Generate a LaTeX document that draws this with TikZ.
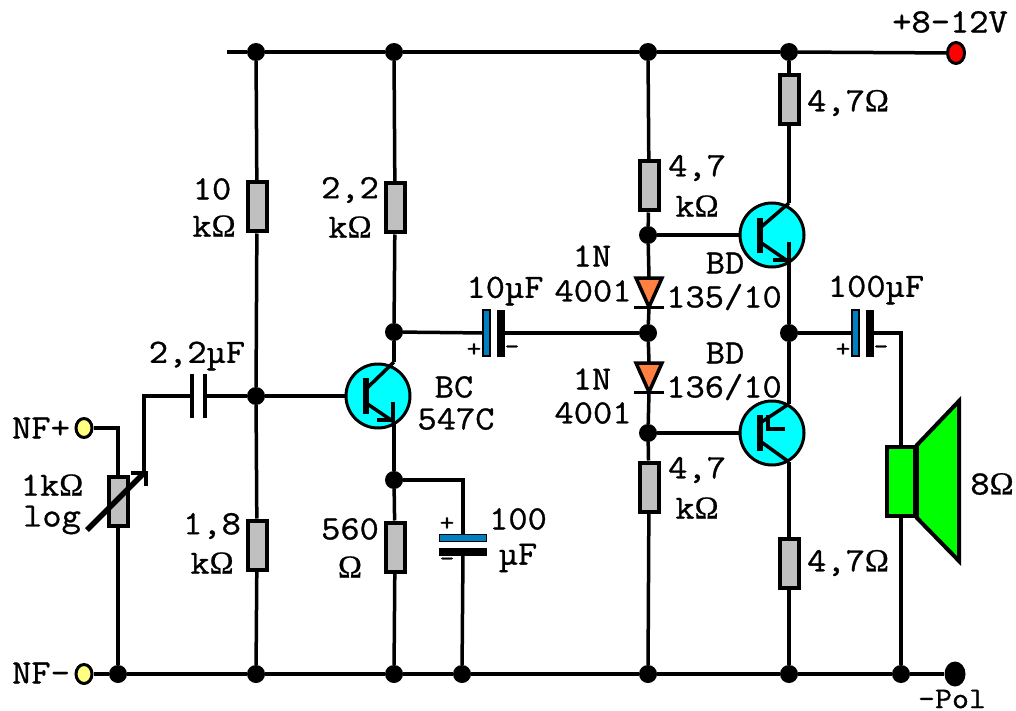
\documentclass[tikz,border=0pt]{standalone}
\usepackage{fontspec}
\setmainfont{Latin Modern Mono}[FakeBold=0.9,FakeStretch=1.1]
\newfontfamily\omegafont{Liberation Serif}[Scale=0.95,FakeBold=0.6]
\newcommand{\Om}{{\omegafont Ω}}
\usetikzlibrary{shapes.geometric}
\definecolor{cyanT}{HTML}{00FFFF}
\definecolor{greyR}{HTML}{C0C0C0}
\definecolor{blueC}{HTML}{0080C0}
\definecolor{orangeD}{HTML}{FF8040}
\definecolor{yellowN}{HTML}{FFFF80}
\definecolor{greenS}{HTML}{00FF00}
\tikzset{
 wire/.style={line width=3.5pt},
 junc/.style={circle,fill=black,draw=none,minimum size=18pt,inner sep=0pt},
 res/.style={rectangle,draw=black,line width=4pt,fill=greyR,minimum width=19pt,minimum height=49pt,inner sep=0pt},
 trans/.style={circle,draw=black,line width=3pt,fill=cyanT,minimum size=64pt,inner sep=0pt},
 term/.style={ellipse,draw=black,line width=3pt,fill=yellowN,minimum width=16pt,minimum height=19pt,inner sep=0pt},
 lab/.style={inner sep=0pt,font=\fontsize{34}{36}\selectfont},
 plateB/.style={rectangle,draw=black,line width=1.5pt,fill=blueC,minimum width=7pt,minimum height=46pt,inner sep=0pt},
 plateK/.style={rectangle,fill=black,minimum width=8pt,minimum height=47pt,inner sep=0pt},
 pol/.style={inner sep=0pt,font=\fontsize{26}{28}\selectfont},
 baseb/.style={line width=5.5pt},
}
\begin{document}
\begin{tikzpicture}[x=1pt,y=-1pt]
\useasboundingbox (0,0) rectangle (1016,711);
\fill[white] (0,0) rectangle (1016,711);
% rail ends and terminals
\coordinate (tl) at (227,52);
\node[ellipse,draw=black,line width=3pt,fill=red,minimum width=17pt,minimum height=21pt,inner sep=0pt] (vp) at (956,53) {};
\node[term] (nfp) at (84,428) {};
\node[term] (nfm) at (84,674) {};
\node[ellipse,fill=black,minimum width=21pt,minimum height=25pt,inner sep=0pt] (gnd) at (955,674) {};
% junctions top
\node[junc] (t1) at (256,52) {};
\node[junc] (t2) at (394,52) {};
\node[junc] (t3) at (648,52) {};
\node[junc] (t4) at (789,52) {};
% junctions bottom
\node[junc] (b0) at (118,674) {};
\node[junc] (b1) at (256,674) {};
\node[junc] (b2) at (394,674) {};
\node[junc] (b3) at (462,674) {};
\node[junc] (b4) at (648,674) {};
\node[junc] (b5) at (789,674) {};
\node[junc] (b6) at (901,674) {};
% mid junctions
\node[junc] (jb) at (256,396) {};
\node[junc] (jc) at (394,332) {};
\node[junc] (je) at (394,480) {};
\node[junc] (d1) at (648,235) {};
\node[junc] (d2) at (648,333) {};
\node[junc] (d3) at (648,433) {};
\node[junc] (jo) at (789,333) {};
% resistors
\node[res] (r1) at (257,207) {};
\node[res] (r2) at (395,208) {};
\node[res] (r3) at (649,186) {};
\node[res] (r4) at (789,100) {};
\node[res] (r5) at (257,545) {};
\node[res] (r6) at (395,547) {};
\node[res] (r7) at (649,487) {};
\node[res] (r8) at (789,563) {};
\node[res] (pot) at (118,501) {};
% transistors
\node[trans] (q1) at (378,396) {};
\node[trans] (q2) at (772,235) {};
\node[trans] (q3) at (772,433) {};
% capacitors
\node[plateB] (c2p) at (486.5,333) {};
\node[plateK] (c2n) at (501,333) {};
\node[plateB] (c4p) at (855.5,333) {};
\node[plateK] (c4n) at (869.5,333) {};
\node[rectangle,draw=none,minimum width=4pt,minimum height=44pt,inner sep=0pt] (c1a) at (192,396) {};
\node[rectangle,draw=none,minimum width=4pt,minimum height=44pt,inner sep=0pt] (c1b) at (205,396) {};
\draw[line width=3.5pt] (c1a.north) -- (c1a.south);
\draw[line width=3.5pt] (c1b.north) -- (c1b.south);
\node[rectangle,draw=black,line width=1.5pt,fill=blueC,minimum width=47pt,minimum height=7pt,inner sep=0pt] (c3p) at (463,538) {};
\node[rectangle,fill=black,minimum width=48pt,minimum height=8pt,inner sep=0pt] (c3n) at (463,552) {};
% speaker
\node[rectangle,draw=black,line width=3.5pt,fill=greenS,minimum width=28pt,minimum height=69pt,inner sep=0pt] (spk) at (901,481.5) {};
\draw[line width=4pt,fill=greenS,line join=miter] (spk.north east) -- (959,401) -- (959,561) -- (spk.south east) -- cycle;
% diodes
\coordinate (a1) at (649,277); \coordinate (k1) at (649,307);
\coordinate (a2) at (649,362); \coordinate (k2) at (649,392);
\draw[line width=3.5pt,fill=orangeD,line join=miter] (636,278) -- (662,278) -- (k1) -- cycle;
\draw[line width=3.5pt,fill=orangeD,line join=miter] (636,363) -- (662,363) -- (k2) -- cycle;
\draw[line width=3pt] (634,307) -- (664,307);
\draw[line width=3pt] (634,392) -- (664,392);
% rails
\draw[wire] (tl) -- (t1); \draw[wire] (t1) -- (t2); \draw[wire] (t2) -- (t3); \draw[wire] (t3) -- (t4); \draw[wire] (t4) -- (vp);
\draw[wire] (nfm) -- (b0); \draw[wire] (b0) -- (b1); \draw[wire] (b1) -- (b2); \draw[wire] (b2) -- (b3); \draw[wire] (b3) -- (b4); \draw[wire] (b4) -- (b5); \draw[wire] (b5) -- (b6); \draw[wire] (b6) -- (gnd);
% verticals
\draw[wire] (t1) -- (r1); \draw[wire] (r1) -- (jb); \draw[wire] (jb) -- (r5); \draw[wire] (r5) -- (b1);
\draw[wire] (t2) -- (r2); \draw[wire] (r2) -- (jc);
\draw[wire] (je) -- (r6); \draw[wire] (r6) -- (b2);
\draw[wire] (t3) -- (r3); \draw[wire] (r3) -- (d1);
\draw[wire] (d1) -- (a1); \draw[wire] (k1) -- (d2); \draw[wire] (d2) -- (a2); \draw[wire] (k2) -- (d3); \draw[wire] (d3) -- (r7); \draw[wire] (r7) -- (b4);
\draw[wire] (t4) -- (r4); \draw[wire] (r8) -- (b5);
% pot and input
\draw[wire] (nfp) -| (pot); \draw[wire] (pot) -- (b0);
\coordinate (wip) at (144,472);
\draw[wire] (wip) |- (c1a);
\draw[wire] (c1b) -- (jb);
\draw[line width=5.5pt] (87,530) -- (145,472);
\draw[line width=4pt] (131,473) -- (146,473) -- (146,486);
% base wires
\draw[wire] (jb) -- (q1);
\draw[wire] (d1) -- (q2);
\draw[wire] (d3) -- (q3);
% transistor Q1
\coordinate (q1c) at (394,362); \coordinate (q1e) at (394,422);
\draw[baseb] (366,378) -- (366,414);
\draw[wire] (366,389) -- (q1c); \draw[wire] (366,403) -- (q1e);
\draw[wire] (393,402) -- (393,420) -- (377,420);
\draw[wire] (jc) -- (q1c); \draw[wire] (q1e) -- (je);
% transistor Q2
\coordinate (q2c) at (789,203); \coordinate (q2e) at (789,262);
\draw[baseb] (760,218) -- (760,253);
\draw[wire] (760,228) -- (q2c); \draw[wire] (760,242) -- (q2e);
\draw[wire] (789,242) -- (789,260) -- (773,260);
\draw[wire] (r4) -- (q2c); \draw[wire] (q2e) -- (jo);
% transistor Q3
\coordinate (q3e) at (789,404); \coordinate (q3c) at (789,462);
\draw[baseb] (760,415) -- (760,451);
\draw[wire] (760,423) -- (q3e); \draw[wire] (760,441) -- (q3c);
\draw[wire] (768,415) -- (768,429) -- (785,429);
\draw[wire] (jo) -- (q3e); \draw[wire] (q3c) -- (r8);
% caps wiring
\draw[wire] (jc) -- (c2p); \draw[wire] (c2n) -- (d2);
\draw[wire] (jo) -- (c4p);
\coordinate (spkt) at (901,333);
\draw[wire] (c4n) -- (spkt) -- (spk);
\draw[wire] (spk) -- (b6);
\draw[wire] (je) -| (c3p);
\draw[wire] (c3n) -- (b3);
% polarity
\node[pol] (p1) at (474,350) {+};
\node[pol] (m1) at (512,350) {-};
\node[pol] (p2) at (843,350) {+};
\node[pol] (m2) at (881,350) {-};
\node[pol] (p3) at (447,524) {+};
\node[pol] (m3) at (447,562) {-};
% labels
\node[lab] (l1) at (950,22) {+8-12V};
\node[lab] (l2) at (848,103) {4,7\Om};
\node[lab] (l3) at (212,189) {10};
\node[lab] (l4) at (214,226) {k\Om};
\node[lab] (l5) at (350,190) {2,2};
\node[lab] (l6) at (350,227) {k\Om};
\node[lab] (l7) at (697,168) {4,7};
\node[lab] (l8) at (697,206) {k\Om};
\node[lab] (l9) at (592,256) {1N};
\node[lab] (l10) at (593,291) {4001};
\node[lab] (l11) at (725,263) {BD};
\node[lab] (l12) at (724,297) {135/10};
\node[lab] (l13) at (505,291) {10µF};
\node[lab] (l14) at (197,356) {2,2µF};
\node[lab] (l15) at (454,387) {BC};
\node[lab] (l16) at (456,419) {547C};
\node[lab] (l17) at (41,428) {NF+};
\node[lab] (l18) at (41,673) {NF-};
\node[lab] (l19) at (52,485) {1k\Om};
\node[lab] (l20) at (52,520) {log};
\node[lab] (l21) at (212,526) {1,8};
\node[lab] (l22) at (212,563) {k\Om};
\node[lab] (l23) at (350,529) {560};
\node[lab] (l24) at (350,567) {\Om};
\node[lab] (l25) at (518,519) {100};
\node[lab] (l26) at (518,558) {µF};
\node[lab] (l27) at (725,353) {BD};
\node[lab] (l28) at (724,387) {136/10};
\node[lab] (l29) at (592,379) {1N};
\node[lab] (l30) at (593,413) {4001};
\node[lab] (l31) at (697,470) {4,7};
\node[lab] (l32) at (697,508) {k\Om};
\node[lab] (l33) at (848,563) {4,7\Om};
\node[lab] (l34) at (876,290) {100µF};
\node[lab] (l35) at (992,484) {8\Om};
\node[lab,font=\fontsize{30}{32}\selectfont] (l36) at (952,699) {-Pol};
\end{tikzpicture}
\end{document}
